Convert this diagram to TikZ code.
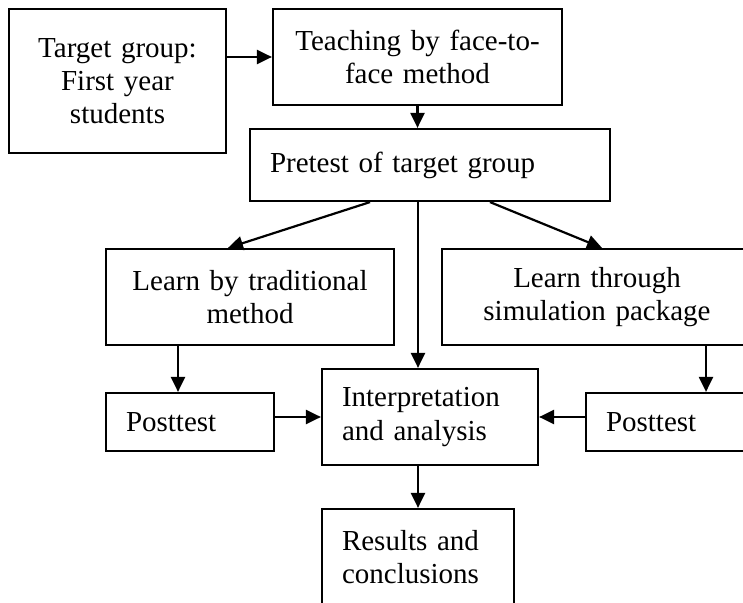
\documentclass[tikz,border=0pt]{standalone}
\usepackage{fontspec}
\setmainfont{Liberation Serif}
\usetikzlibrary{arrows.meta}

\begin{document}
\begin{tikzpicture}[x=0.5pt,y=-0.5pt]

\tikzset{
box/.style={rectangle,draw=black,line width=1.1pt,inner xsep=10pt,inner ysep=0pt,font=\fontsize{14.5}{16.6}\selectfont},
arr/.style={-{Triangle[length=7.5pt,width=7pt]},line width=1.1pt}
}

\useasboundingbox (0,0) rectangle (743,603);
\clip (0,0) rectangle (743,603);

\node[box,text width=88.5pt,minimum height=72pt,align=center] (target) at (117.5,81) {Target group:\\First year\\students};
\node[box,text width=124.5pt,minimum height=48pt,align=center] (teaching) at (417.5,57) {Teaching by face-to-\\face method};
\node[box,text width=160pt,minimum height=36pt,align=left] (pretest) at (430,165) {Pretest of target group};
\node[box,text width=124pt,minimum height=48pt,align=center] (traditional) at (250,297) {Learn by traditional\\method};
\node[box,text width=135pt,minimum height=48pt,align=center] (simulation) at (597,297) {Learn through\\simulation package};
\node[box,text width=64pt,minimum height=29pt,align=left] (posttest-left) at (190,422) {Posttest};
\node[box,text width=88pt,minimum height=48pt,align=left] (interpretation) at (430,417) {Interpretation\\and analysis};
\node[box,text width=64pt,minimum height=29pt,align=left] (posttest-right) at (670,422) {Posttest};
\node[box,text width=76pt,minimum height=48pt,align=left] (results) at (418,557) {Results and\\conclusions};

\draw[arr] (target.east |- teaching.west)--(teaching.west);
\draw[arr] (teaching.south)--(teaching.south |- pretest.north);
\draw[arr] ([xshift=-30pt]pretest.south)--([xshift=-11pt]traditional.north);
\draw[arr] ([xshift=-6pt]pretest.south)--([xshift=-6pt]interpretation.north);
\draw[arr] ([xshift=30pt]pretest.south)--([xshift=2.5pt]simulation.north);
\draw[arr] ([xshift=-36pt]traditional.south)--([xshift=-36pt]traditional.south |- posttest-left.north);
\draw[arr] ([xshift=54.5pt]simulation.south)--([xshift=54.5pt]simulation.south |- posttest-right.north);
\draw[arr] (interpretation.west -| posttest-left.east)--(interpretation.west);
\draw[arr] (interpretation.east -| posttest-right.west)--(interpretation.east);
\draw[arr] ([xshift=-6pt]interpretation.south)--(results.north);

\end{tikzpicture}
\end{document}
